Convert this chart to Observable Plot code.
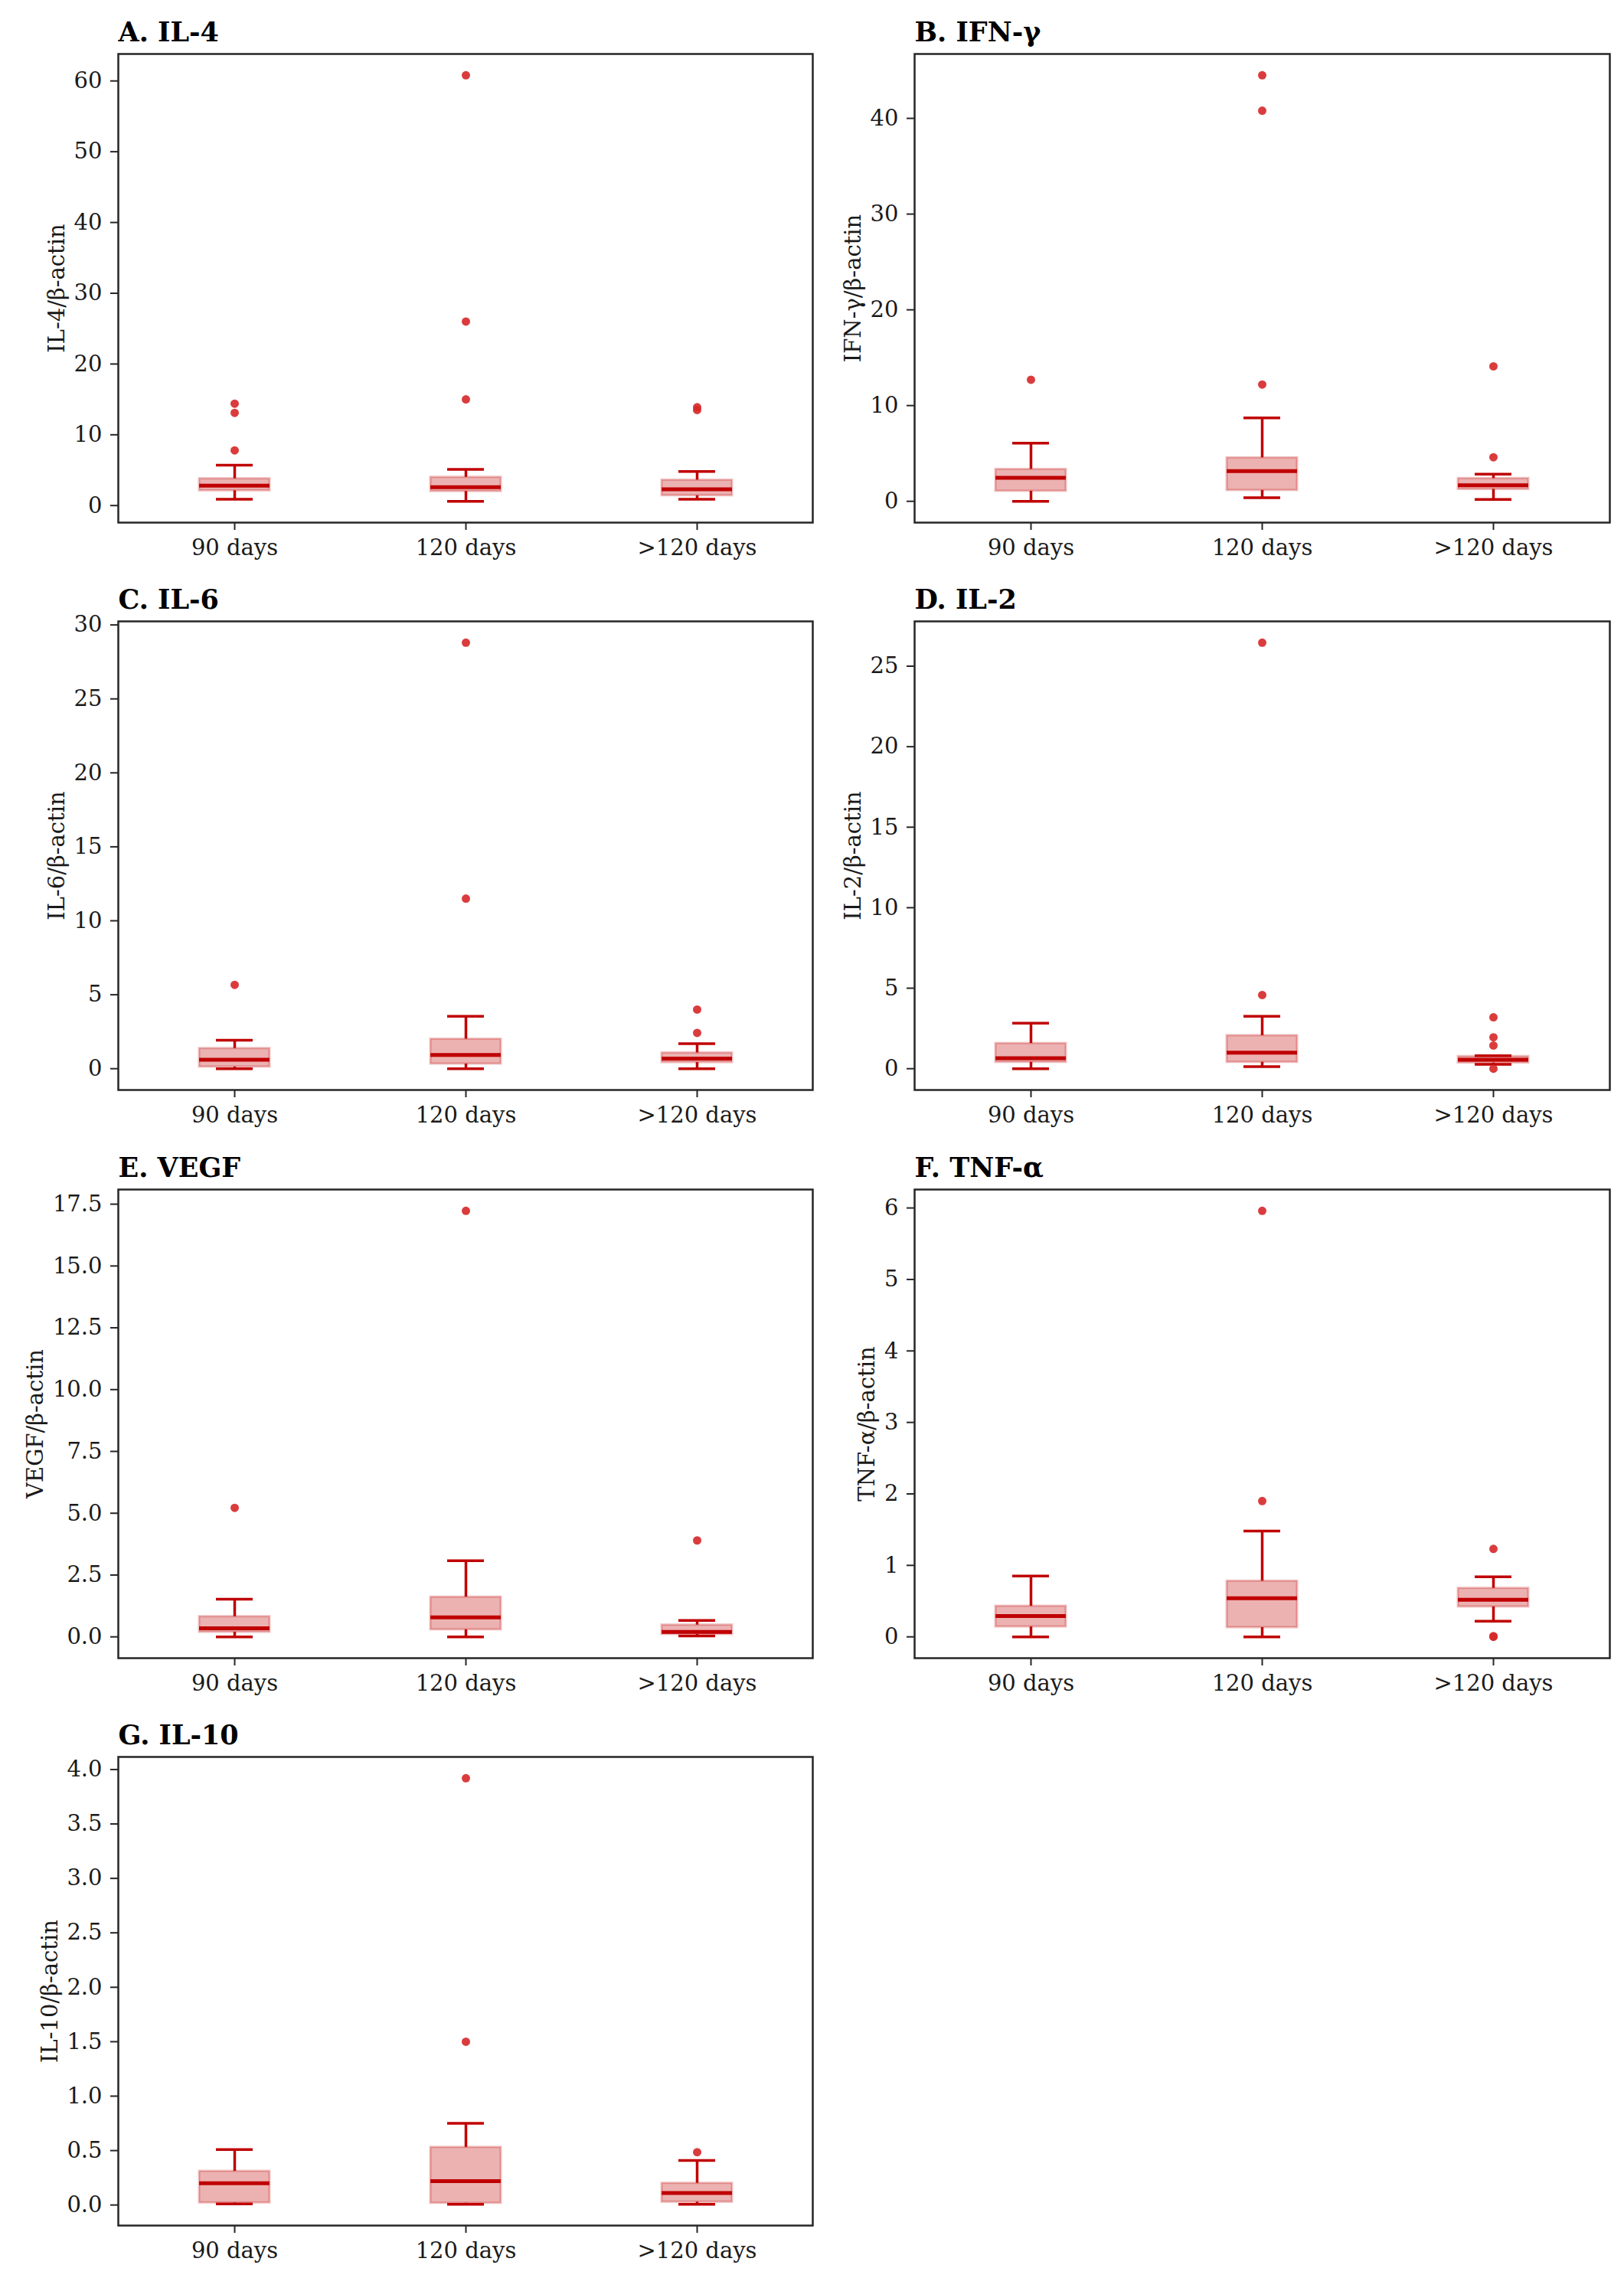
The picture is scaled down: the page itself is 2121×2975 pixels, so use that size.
<!DOCTYPE html>
<html>
<head>
<meta charset="utf-8">
<script src="https://cdn.jsdelivr.net/npm/d3@7"></script>
<script src="https://cdn.jsdelivr.net/npm/@observablehq/plot@0.6"></script>
<style>
  body { margin: 0; background: #fff; }
  #chart { position: relative; width: 2121px; height: 2975px; background: #fff; }
  #chart > svg { position: absolute; }
</style>
</head>
<body>
<div id="chart"></div>
<script>
const groups = ["90 days", "120 days", ">120 days"];
const titles = ["A. IL-4", "B. IFN-γ", "C. IL-6", "D. IL-2", "E. VEGF", "F. TNF-α", "G. IL-10"];
const yLabels = ["IL-4/β-actin", "IFN-γ/β-actin", "IL-6/β-actin", "IL-2/β-actin", "VEGF/β-actin", "TNF-α/β-actin", "IL-10/β-actin"];

// per group: [lower whisker, Q1, median, Q3, upper whisker]
const il4Box = [[0.9, 2.1, 2.8, 3.8, 5.7], [0.6, 2.0, 2.6, 4.0, 5.1], [0.9, 1.4, 2.3, 3.6, 4.8]];
const il4Out = [[14.4, 13.1, 7.8], [60.8, 26.0, 15.0], [13.9, 13.5]];
const il4Ticks = [0, 10, 20, 30, 40, 50, 60];

const ifnBox = [[0.0, 1.06, 2.46, 3.34, 6.07], [0.38, 1.14, 3.15, 4.55, 8.72], [0.19, 1.25, 1.67, 2.39, 2.84]];
const ifnOut = [[12.7], [44.5, 40.8, 12.2], [14.1, 4.6]];
const ifnTicks = [0, 10, 20, 30, 40];

const il6Box = [[0.0, 0.12, 0.61, 1.37, 1.93], [0.0, 0.32, 0.93, 2.0, 3.54], [0.0, 0.42, 0.68, 1.07, 1.69]];
const il6Out = [[5.67], [28.8, 11.5], [4.0, 2.42]];
const il6Ticks = [0, 5, 10, 15, 20, 25, 30];

const il2Box = [[0.0, 0.4, 0.65, 1.57, 2.83], [0.13, 0.4, 1.0, 2.06, 3.25], [0.27, 0.36, 0.56, 0.76, 0.81]];
const il2Out = [[], [26.46, 4.58], [3.19, 1.95, 1.44, 0.0]];
const il2Ticks = [0, 5, 10, 15, 20, 25];

const vegfBox = [[0.0, 0.19, 0.35, 0.82, 1.52], [0.0, 0.29, 0.79, 1.61, 3.08], [0.04, 0.1, 0.2, 0.48, 0.66]];
const vegfOut = [[5.22], [17.23], [3.9]];
const vegfTicks = [0, 2.5, 5, 7.5, 10, 12.5, 15, 17.5];

const tnfBox = [[0.0, 0.14, 0.29, 0.43, 0.85], [0.0, 0.13, 0.54, 0.78, 1.48], [0.22, 0.42, 0.52, 0.68, 0.84]];
const tnfOut = [[], [5.96, 1.9], [1.23, 0.0, 0.01]];
const tnfTicks = [0, 1, 2, 3, 4, 5, 6];

const il10Box = [[0.01, 0.02, 0.2, 0.31, 0.51], [0.007, 0.017, 0.22, 0.53, 0.75], [0.007, 0.027, 0.11, 0.2, 0.41]];
const il10Out = [[], [3.92, 1.5], [0.485]];
const il10Ticks = [0, 0.5, 1, 1.5, 2, 2.5, 3, 3.5, 4];

const allBoxes = [il4Box, ifnBox, il6Box, il2Box, vegfBox, tnfBox, il10Box];
const allOut = [il4Out, ifnOut, il6Out, il2Out, vegfOut, tnfOut, il10Out];
const allTicks = [il4Ticks, ifnTicks, il6Ticks, il2Ticks, vegfTicks, tnfTicks, il10Ticks];

const red = "#c00000";
const font = "DejaVu Serif";
const ctx = document.createElement("canvas").getContext("2d");
ctx.font = `29px "${font}"`;

titles.forEach((title, i) => {
  const col = i % 2, row = Math.floor(i / 2);
  const boxes = allBoxes[i].map((b, j) => ({group: groups[j], low: b[0], q1: b[1], med: b[2], q3: b[3], high: b[4]}));
  const outliers = allOut[i].flatMap((vals, j) => vals.map(v => ({group: groups[j], value: v})));

  // matplotlib-like autoscale: data extent plus 5% each side
  const vals = allBoxes[i].flat().concat(allOut[i].flat());
  const [lo, hi] = d3.extent(vals);
  const pad = (hi - lo) * 0.05;

  const ticks = allTicks[i];
  const fmt = ticks.some(t => t % 1) ? d3.format(".1f") : d3.format("d");
  const maxW = d3.max(ticks, t => ctx.measureText(fmt(t)).width);

  const width = col ? 1058 : 1063;
  const height = row < 3 ? 741 : 752;
  const marginTop = row < 2 ? 70 : 71;

  const chart = Plot.plot({
    width, height,
    marginLeft: col ? 131 : 154,
    marginRight: col ? 19 : 2,
    marginTop,
    marginBottom: height - marginTop - 612,
    style: {fontFamily: font, fontSize: "29px", color: "#1a1a1a", background: "#fff", overflow: "visible"},
    x: {type: "band", domain: groups, paddingInner: 0.696, paddingOuter: 0.348, label: null},
    y: {domain: [lo - pad, hi + pad], label: null},
    marks: [
      Plot.barY(boxes, {x: "group", y1: "q1", y2: "q3", fill: red, fillOpacity: 0.3, stroke: red, strokeOpacity: 0.25, strokeWidth: 3}),
      Plot.ruleX(boxes, {x: "group", y1: "low", y2: "q1", stroke: red, strokeWidth: 3.5}),
      Plot.ruleX(boxes, {x: "group", y1: "q3", y2: "high", stroke: red, strokeWidth: 3.5}),
      Plot.tickY(boxes, {x: "group", y: "low", stroke: red, strokeWidth: 3.5, insetLeft: 22, insetRight: 22}),
      Plot.tickY(boxes, {x: "group", y: "high", stroke: red, strokeWidth: 3.5, insetLeft: 22, insetRight: 22}),
      Plot.tickY(boxes, {x: "group", y: "med", stroke: red, strokeWidth: 5}),
      Plot.dot(outliers, {x: "group", y: "value", r: 5.5, fill: "#d62728", fillOpacity: 0.9}),
      Plot.frame({stroke: "#262626", strokeWidth: 2.5}),
      Plot.axisX({tickSize: 10, tickPadding: 12, stroke: "#262626", strokeWidth: 2, label: null}),
      Plot.axisY({ticks, tickFormat: fmt, tickSize: 10, tickPadding: 11, stroke: "#262626", strokeWidth: 2, label: null}),
      Plot.text([yLabels[i]], {frameAnchor: "left", rotate: -90, dx: -(10 + 11 + maxW + 22), textAnchor: "middle", lineAnchor: "middle", fontSize: 29, fill: "#1a1a1a"}),
      Plot.text([title], {frameAnchor: "top-left", dy: -28, textAnchor: "start", lineAnchor: "middle", fontSize: 35, fontWeight: "bold", fill: "#000"})
    ]
  });
  chart.style.left = (col ? 1063 : 0) + "px";
  chart.style.top = (741 * row) + "px";
  d3.select("#chart").append(() => chart);
});
</script>
</body>
</html>
